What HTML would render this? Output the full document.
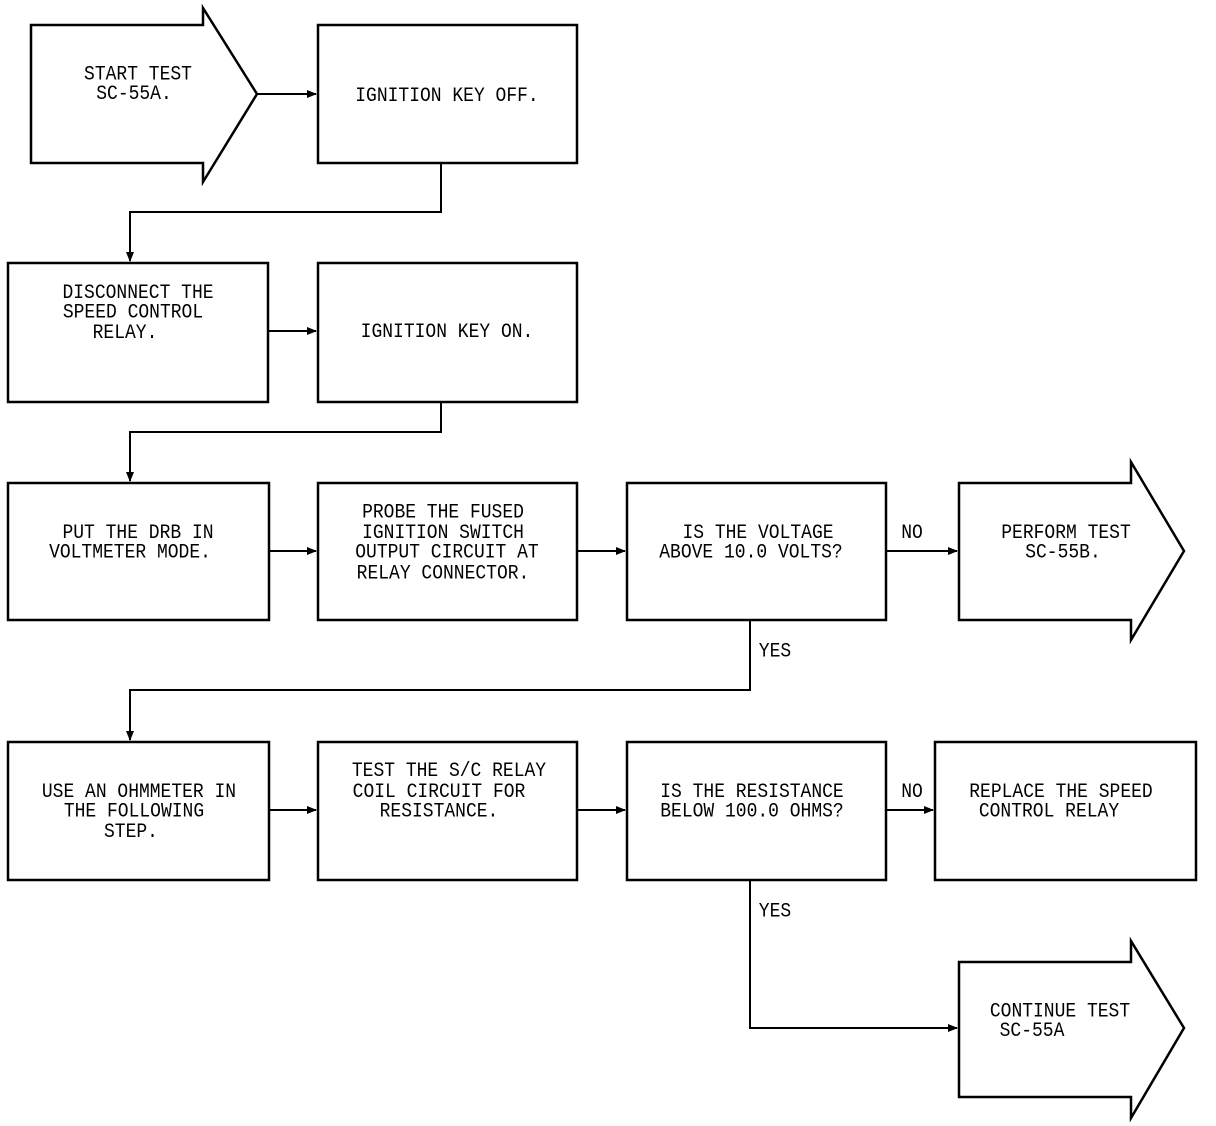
<!DOCTYPE html>
<html><head><meta charset="utf-8"><style>
html,body{margin:0;padding:0;background:#fff;}
svg{display:block}
text{font-family:"Liberation Mono",monospace;font-size:18px;fill:#000;text-anchor:middle;}
</style></head><body>
<svg width="1216" height="1126" viewBox="0 0 1216 1126" xmlns="http://www.w3.org/2000/svg">
<defs><marker id="a" markerWidth="10" markerHeight="10" refX="9" refY="5" orient="auto" markerUnits="userSpaceOnUse"><path d="M0,1 L10,5 L0,9 Z" fill="#000"/></marker></defs>
<g fill="none" stroke="#000" stroke-width="2.5">
<path d="M31,25 H203 V8 L257,94 L203,182 V163 H31 Z"/>
<rect x="318" y="25" width="259" height="138"/>
<rect x="8" y="263" width="260" height="139"/>
<rect x="318" y="263" width="259" height="139"/>
<rect x="8" y="483" width="261" height="137"/>
<rect x="318" y="483" width="259" height="137"/>
<rect x="627" y="483" width="259" height="137"/>
<path d="M959,483 H1131 V462 L1184,551 L1131,640 V620 H959 Z"/>
<rect x="8" y="742" width="261" height="138"/>
<rect x="318" y="742" width="259" height="138"/>
<rect x="627" y="742" width="259" height="138"/>
<rect x="935" y="742" width="261" height="138"/>
<path d="M959,962 H1131 V941 L1184,1028 L1131,1118 V1097 H959 Z"/>
</g>
<g fill="none" stroke="#000" stroke-width="2">
<path d="M257,94 H316" marker-end="url(#a)"/>
<path d="M441,163 V212 H130 V261" marker-end="url(#a)"/>
<path d="M268,331 H316" marker-end="url(#a)"/>
<path d="M441,402 V432 H130 V481" marker-end="url(#a)"/>
<path d="M269,551 H316" marker-end="url(#a)"/>
<path d="M577,551 H625" marker-end="url(#a)"/>
<path d="M886,551 H957" marker-end="url(#a)"/>
<path d="M750,620 V690 H130 V740" marker-end="url(#a)"/>
<path d="M269,810 H316" marker-end="url(#a)"/>
<path d="M577,810 H625" marker-end="url(#a)"/>
<path d="M886,810 H933" marker-end="url(#a)"/>
<path d="M750,880 V1028 H957" marker-end="url(#a)"/>
</g>
<g transform="scale(1,1.15)">
<text x="138" y="69">START TEST</text>
<text x="134" y="86">SC-55A.</text>
<text x="447" y="88">IGNITION KEY OFF.</text>
<text x="138" y="259">DISCONNECT THE</text>
<text x="133" y="276">SPEED CONTROL</text>
<text x="125" y="294">RELAY.</text>
<text x="447" y="293">IGNITION KEY ON.</text>
<text x="138" y="468">PUT THE DRB IN</text>
<text x="130" y="485">VOLTMETER MODE.</text>
<text x="443" y="450">PROBE THE FUSED</text>
<text x="443" y="468">IGNITION SWITCH</text>
<text x="447" y="485">OUTPUT CIRCUIT AT</text>
<text x="443" y="503">RELAY CONNECTOR.</text>
<text x="758" y="468">IS THE VOLTAGE</text>
<text x="751" y="485">ABOVE 10.0 VOLTS?</text>
<text x="912" y="468">NO</text>
<text x="1066" y="468">PERFORM TEST</text>
<text x="1063" y="485">SC-55B.</text>
<text x="775" y="571">YES</text>
<text x="139" y="693">USE AN OHMMETER IN</text>
<text x="134" y="710">THE FOLLOWING</text>
<text x="131" y="728">STEP.</text>
<text x="449" y="675">TEST THE S/C RELAY</text>
<text x="439" y="693">COIL CIRCUIT FOR</text>
<text x="439" y="710">RESISTANCE.</text>
<text x="752" y="693">IS THE RESISTANCE</text>
<text x="752" y="710">BELOW 100.0 OHMS?</text>
<text x="912" y="693">NO</text>
<text x="1061" y="693">REPLACE THE SPEED</text>
<text x="1049" y="710">CONTROL RELAY</text>
<text x="775" y="797">YES</text>
<text x="1060" y="884">CONTINUE TEST</text>
<text x="1032" y="901">SC-55A</text>
</g>
</svg>
</body></html>
